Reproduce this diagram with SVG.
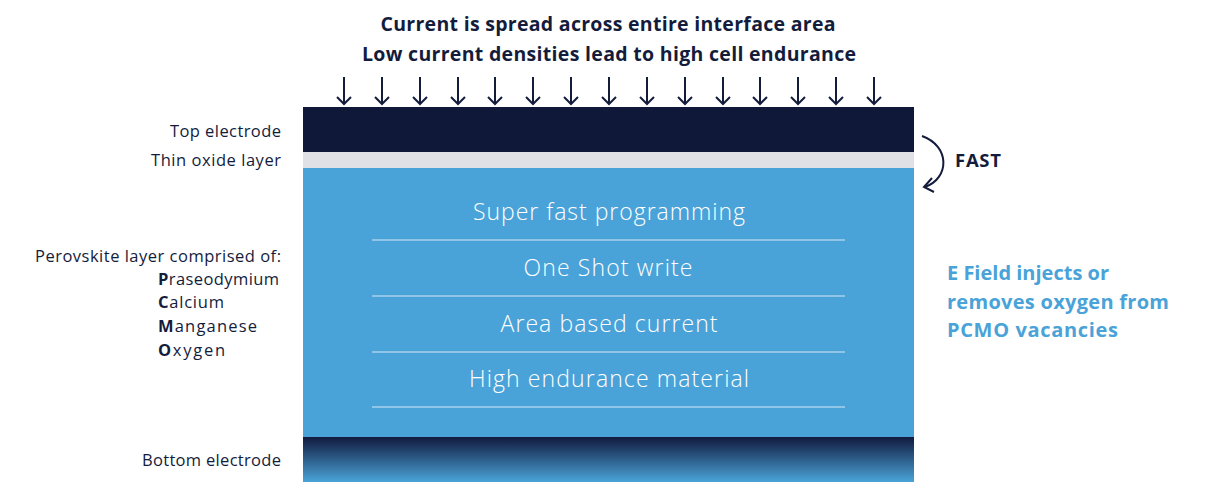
<svg xmlns="http://www.w3.org/2000/svg" width="1227" height="489" viewBox="0 0 1227 489">
<defs>
<style>
.t{font-family:"Open Sans","Liberation Sans",sans-serif;fill:#141c3c}
.h{font-size:19.5px;font-weight:700;text-anchor:middle}
.l{font-size:16.5px;text-anchor:end}
.e{font-size:16.5px}
.in{font-family:"Open Sans","Liberation Sans",sans-serif;font-size:23px;font-weight:300;fill:#ffffff;text-anchor:middle}
.sep{stroke:#d5e8f5;stroke-width:1}
.ar{stroke:#141c3c;stroke-width:2;fill:none}
.blue{font-family:"Open Sans","Liberation Sans",sans-serif;font-size:20px;font-weight:700;fill:#4aa3d8}
</style>
<linearGradient id="bg" x1="0" y1="0" x2="0" y2="1">
<stop offset="0" stop-color="#111a3e"/>
<stop offset="1" stop-color="#4aa3d8"/>
</linearGradient>
</defs>
<rect width="1227" height="489" fill="#ffffff"/>
<g id="title">
<text class="t h" x="608" y="31" textLength="455" lengthAdjust="spacing">Current is spread across entire interface area</text>
<text class="t h" x="609" y="61" textLength="494" lengthAdjust="spacing">Low current densities lead to high cell endurance</text>
</g>
<g id="connectors">
<g class="ar">
<path d="M344,77 V104 M337,97 L344,104 L351,97"/>
<path d="M382,77 V104 M375,97 L382,104 L389,97"/>
<path d="M420,77 V104 M413,97 L420,104 L427,97"/>
<path d="M458,77 V104 M451,97 L458,104 L465,97"/>
<path d="M495,77 V104 M488,97 L495,104 L502,97"/>
<path d="M533,77 V104 M526,97 L533,104 L540,97"/>
<path d="M571,77 V104 M564,97 L571,104 L578,97"/>
<path d="M609,77 V104 M602,97 L609,104 L616,97"/>
<path d="M647,77 V104 M640,97 L647,104 L654,97"/>
<path d="M685,77 V104 M678,97 L685,104 L692,97"/>
<path d="M723,77 V104 M716,97 L723,104 L730,97"/>
<path d="M760,77 V104 M753,97 L760,104 L767,97"/>
<path d="M798,77 V104 M791,97 L798,104 L805,97"/>
<path d="M836,77 V104 M829,97 L836,104 L843,97"/>
<path d="M874,77 V104 M867,97 L874,104 L881,97"/>
</g>
<path class="ar" d="M922,136 C950,146 950,178 925,187"/>
<path class="ar" d="M932,178 L924,187 L934,192"/>
</g>
<g id="top-electrode">
<rect x="303" y="107" width="611" height="45" fill="#0f1839"/>
<text class="t l" x="281" y="137" textLength="111" lengthAdjust="spacing">Top electrode</text>
</g>
<g id="thin-oxide">
<rect x="303" y="152" width="611" height="16" fill="#e0e1e6"/>
<text class="t l" x="281" y="166" textLength="130" lengthAdjust="spacing">Thin oxide layer</text>
</g>
<g id="perovskite">
<rect x="303" y="168" width="611" height="269" fill="#4aa3d8"/>
<text class="in" x="609" y="220" textLength="272" lengthAdjust="spacing">Super fast programming</text>
<line class="sep" x1="372" y1="240" x2="845" y2="240"/>
<text class="in" x="608" y="276" textLength="169" lengthAdjust="spacing">One Shot write</text>
<line class="sep" x1="372" y1="296" x2="845" y2="296"/>
<text class="in" x="609" y="332" textLength="217" lengthAdjust="spacing">Area based current</text>
<line class="sep" x1="372" y1="352" x2="845" y2="352"/>
<text class="in" x="609" y="387" textLength="280" lengthAdjust="spacing">High endurance material</text>
<line class="sep" x1="372" y1="407" x2="845" y2="407"/>
<text class="t l" x="281" y="262" textLength="246" lengthAdjust="spacing">Perovskite layer comprised of:</text>
<text class="t e" x="158" y="285" textLength="121" lengthAdjust="spacing"><tspan font-weight="700">P</tspan>raseodymium</text>
<text class="t e" x="158" y="308" textLength="66" lengthAdjust="spacing"><tspan font-weight="700">C</tspan>alcium</text>
<text class="t e" x="158" y="332" textLength="99" lengthAdjust="spacing"><tspan font-weight="700">M</tspan>anganese</text>
<text class="t e" x="158" y="356" textLength="67" lengthAdjust="spacing"><tspan font-weight="700">O</tspan>xygen</text>
</g>
<g id="bottom-electrode">
<rect x="303" y="437" width="611" height="45" fill="url(#bg)"/>
<text class="t l" x="281" y="466" textLength="139" lengthAdjust="spacing">Bottom electrode</text>
</g>
<g id="fast">
<text class="t" x="955" y="167" font-size="18.5" font-weight="700" textLength="46" lengthAdjust="spacing">FAST</text>
</g>
<g id="efield">
<text class="blue" x="947" y="280" textLength="162" lengthAdjust="spacing">E Field injects or</text>
<text class="blue" x="947" y="309" textLength="222" lengthAdjust="spacing">removes oxygen from</text>
<text class="blue" x="947" y="337" textLength="171" lengthAdjust="spacing">PCMO vacancies</text>
</g>
</svg>
